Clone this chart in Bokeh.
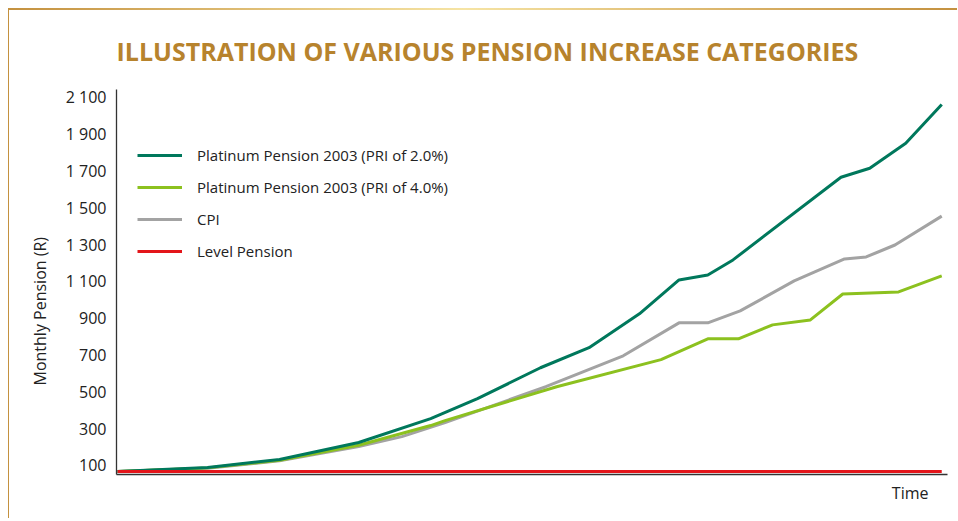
from bokeh.plotting import figure
from bokeh.models import Range1d, FixedTicker, Title, Legend, LegendItem
from bokeh.embed import file_html
from bokeh.resources import INLINE

# ---- data (time in years, monthly pension in R) ----
time_pri2 = [0, 2.5, 4.5, 6.7, 8.7, 10.0, 11.75, 13.1, 14.5, 15.6, 16.4, 17.1, 20.1, 20.9, 21.9, 22.9]
pension_pri2 = [67, 89, 133, 225, 355, 463, 631, 740, 924, 1108, 1135, 1217, 1666, 1715, 1851, 2062]

time_pri4 = [0, 2.5, 4.5, 6.7, 8.7, 9.1, 12.2, 15.1, 16.4, 17.25, 18.2, 19.25, 20.15, 21.7, 22.9]
pension_pri4 = [67, 87, 128, 210, 317, 344, 528, 675, 788, 788, 864, 891, 1032, 1043, 1130]

time_cpi = [0, 2.5, 4.5, 6.7, 7.9, 9.1, 11.9, 14.05, 15.6, 16.4, 17.3, 18.8, 20.2, 20.8, 21.6, 22.9]
pension_cpi = [67, 85, 125, 203, 257, 333, 528, 696, 875, 875, 940, 1103, 1222, 1233, 1298, 1455]

time_level = [0, 22.9]
pension_level = [67, 67]

series_labels = ["Platinum Pension 2003 (PRI of 2.0%)", "Platinum Pension 2003 (PRI of 4.0%)",
                 "CPI", "Level Pension"]

y_ticks = [100, 300, 500, 700, 900, 1100, 1300, 1500, 1700, 1900, 2100]
y_tick_labels = ["100", "300", "500", "700", "900", "1 100", "1 300", "1 500", "1 700", "1 900", "2 100"]

FONT = "Open Sans"
TEXT = "#222222"

p = figure(width=949, height=510, output_backend="svg", toolbar_location=None,
           x_range=Range1d(-0.03, 23.06), y_range=Range1d(51, 2143),
           min_border_left=107, min_border_right=11, min_border_top=78, min_border_bottom=46,
           background_fill_color="white", border_fill_color="white",
           styles={"margin": "8px 0 0 8px",
                   "border-style": "solid", "border-width": "2px 0 0 1px",
                   "border-image": "linear-gradient(to right, #c4913f, #f6e4a4 48%, #d6ad62 80%, #c4913f) 1"})

p.title.text = "ILLUSTRATION OF VARIOUS PENSION INCREASE CATEGORIES"
p.title.align = "left"
p.title.text_font = FONT
p.title.text_font_style = "bold"
p.title.text_font_size = "25px"
p.title.text_color = "#b7832d"
p.title.standoff = 43

p.outline_line_color = None
p.xgrid.grid_line_color = None
p.ygrid.grid_line_color = None

p.yaxis.ticker = FixedTicker(ticks=y_ticks)
p.yaxis.major_label_overrides = {t: l for t, l in zip(y_ticks, y_tick_labels)}
p.yaxis.major_tick_line_color = None
p.yaxis.major_tick_out = 0
p.yaxis.major_tick_in = 0
p.yaxis.minor_tick_line_color = None
p.yaxis.major_label_standoff = 10
p.yaxis.major_label_text_font = FONT
p.yaxis.major_label_text_font_size = "16px"
p.yaxis.major_label_text_color = TEXT
p.yaxis.axis_line_color = "#333333"
p.yaxis.axis_line_width = 1.3

p.xaxis.ticker = FixedTicker(ticks=[])
p.xaxis.major_tick_line_color = None
p.xaxis.minor_tick_line_color = None
p.xaxis.major_label_text_font_size = "0px"
p.xaxis.axis_line_color = "#333333"
p.xaxis.axis_line_width = 1.3

ylab = Title(text="Monthly Pension (R)", align="left", offset=89, text_font=FONT,
             text_font_style="normal", text_font_size="16px", text_color=TEXT, standoff=24)
p.add_layout(ylab, "left")

xlab = Title(text="Time", align="right", offset=19, text_font=FONT,
             text_font_style="normal", text_font_size="16px", text_color=TEXT)
p.add_layout(xlab, "below")

r_cpi = p.line(time_cpi, pension_cpi, line_color="#a3a3a3", line_width=3)
r_pri4 = p.line(time_pri4, pension_pri4, line_color="#8cc11f", line_width=3)
r_pri2 = p.line(time_pri2, pension_pri2, line_color="#00785c", line_width=3)
r_level = p.line(time_level, pension_level, line_color="#e3151a", line_width=3)

legend = Legend(items=[LegendItem(label=series_labels[0], renderers=[r_pri2]),
                       LegendItem(label=series_labels[1], renderers=[r_pri4]),
                       LegendItem(label=series_labels[2], renderers=[r_cpi]),
                       LegendItem(label=series_labels[3], renderers=[r_level])],
                location=(21, 213), glyph_width=45, glyph_height=20, label_height=20,
                spacing=12, label_standoff=15, padding=0, margin=0,
                border_line_color=None, background_fill_alpha=0,
                label_text_font=FONT, label_text_font_size="15px", label_text_color=TEXT)
p.add_layout(legend)

open("out.html", "w").write(file_html(p, INLINE))
